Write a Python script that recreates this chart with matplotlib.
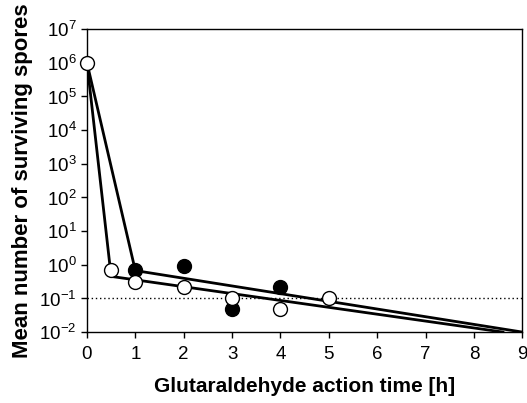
import numpy as np
import matplotlib
matplotlib.use("Agg")
import matplotlib.pyplot as plt
from matplotlib.ticker import FixedLocator, FuncFormatter

matplotlib.rcParams.update({
    "font.family": "Liberation Sans",
    "mathtext.fontset": "custom",
    "mathtext.rm": "Liberation Sans",
    "mathtext.bf": "Liberation Sans:bold",
    "axes.unicode_minus": False,
})

# measured points
open_t = [0, 0.5, 1, 2, 3, 4, 5]
open_n = [1e6, 0.7, 0.3, 0.22, 0.1, 0.05, 0.1]
filled_t = [1, 2, 3, 4]
filled_n = [0.7, 0.9, 0.05, 0.22]

# fitted inactivation curves
fit_open_t = [0, 0.5, 8.6]
fit_open_n = [1e6, 0.45, 0.01]
fit_filled_t = [0, 1, 9]
fit_filled_n = [1e6, 0.67, 0.01]

detection_limit = 0.1

fig = plt.figure(figsize=(5.27, 4.03), dpi=100)
ax = fig.add_axes([0.165, 0.176, 0.826, 0.752])

ax.axhline(detection_limit, color="black", linestyle=(0, (1, 2)), linewidth=1.0, zorder=1)
ax.plot(fit_filled_t, fit_filled_n, color="black", linewidth=2.0, zorder=2)
ax.plot(fit_open_t, fit_open_n, color="black", linewidth=2.0, zorder=2)

ax.plot(filled_t, filled_n, "o", markersize=10, markerfacecolor="black",
        markeredgecolor="black", markeredgewidth=1.0, zorder=3, clip_on=False)
ax.plot(open_t, open_n, "o", markersize=10, markerfacecolor="white",
        markeredgecolor="black", markeredgewidth=1.0, zorder=4, clip_on=False)

ax.set_yscale("log")
ax.set_ylim(1e-2, 1e7)
ax.set_xlim(0, 9)
ax.set_xticks(range(10))
ax.yaxis.set_major_locator(FixedLocator([10.0**k for k in range(-2, 8)]))
ax.yaxis.set_minor_locator(FixedLocator([]))
ax.yaxis.set_major_formatter(FuncFormatter(lambda v, p: r"$10^{%d}$" % round(np.log10(v))))

ax.tick_params(axis="both", direction="out", length=4, width=1, labelsize=13.5)
ax.tick_params(axis="x", pad=6)
for s in ax.spines.values():
    s.set_linewidth(1.0)

ax.set_xlabel("Glutaraldehyde action time [h]", fontsize=15, fontweight="bold", labelpad=10)
ax.set_ylabel("Mean number of surviving spores", fontsize=16, fontweight="bold", labelpad=4)

fig.savefig("out.png", dpi=100)
